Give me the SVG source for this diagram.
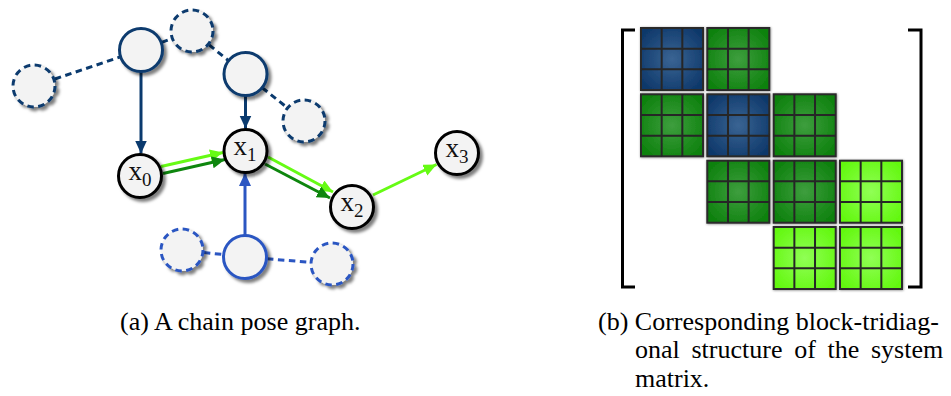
<svg xmlns="http://www.w3.org/2000/svg" xmlns:xlink="http://www.w3.org/1999/xlink" width="951" height="396" viewBox="0 0 951 396">
<defs>
<style>
.node{fill:#f3f3f3;stroke-width:3;}
.dk{stroke:#0a3a6e;}
.lb{stroke:#2b56c2;}
.kx{stroke:#000;}
.dash{stroke-dasharray:6.5 4.5;}
.edge{fill:none;stroke-width:3;}
.lbl{font-family:"Liberation Serif","Times New Roman",serif;font-size:27px;fill:#111;}
.sub{font-size:19px;}
.cap{font-family:"Liberation Serif","Times New Roman",serif;font-size:26px;fill:#000;}
.blk{stroke:#2a2a2a;stroke-width:2;}
.grid{fill:none;stroke:#262626;stroke-width:2;}
.bB{fill:url(#gB);}
.bD{fill:url(#gD);}
.bL{fill:url(#gL);}
.brk{fill:none;stroke:#000;stroke-width:3;}
</style>
<filter id="sh" x="-30%" y="-30%" width="170%" height="170%">
<feDropShadow dx="3" dy="3" stdDeviation="1.6" flood-color="#000" flood-opacity="0.5"/>
</filter>
<filter id="bsh" x="-10%" y="-10%" width="120%" height="120%">
<feDropShadow dx="0.5" dy="0.5" stdDeviation="1" flood-color="#000" flood-opacity="0.45"/>
</filter>
<radialGradient id="gB" cx="0.5" cy="0.5" r="0.6">
<stop offset="0" stop-color="#3a6493"/><stop offset="1" stop-color="#0f396b"/>
</radialGradient>
<radialGradient id="gD" cx="0.5" cy="0.5" r="0.6">
<stop offset="0" stop-color="#3e9e3e"/><stop offset="1" stop-color="#0e810e"/>
</radialGradient>
<radialGradient id="gL" cx="0.5" cy="0.5" r="0.6">
<stop offset="0" stop-color="#90ff55"/><stop offset="1" stop-color="#64f811"/>
</radialGradient>
<path id="grid" class="grid" d="M20.67 0V62M41.33 0V62M0 20.67H62M0 41.33H62"/>
<marker id="aDk" markerUnits="userSpaceOnUse" markerWidth="16" markerHeight="14" refX="13" refY="6" orient="auto"><path d="M0 0L13 6L0 12z" fill="#0a3a6e"/></marker>
<marker id="aLb" markerUnits="userSpaceOnUse" markerWidth="16" markerHeight="14" refX="13" refY="6" orient="auto"><path d="M0 0L13 6L0 12z" fill="#2b56c2"/></marker>
<marker id="aG" markerUnits="userSpaceOnUse" markerWidth="16" markerHeight="14" refX="13" refY="6" orient="auto"><path d="M0 0L13 6L0 12z" fill="#0e860e"/></marker>
<marker id="aL" markerUnits="userSpaceOnUse" markerWidth="16" markerHeight="14" refX="13" refY="6" orient="auto"><path d="M0 0L13 6L0 12z" fill="#66fb14"/></marker>
</defs>
<rect width="951" height="396" fill="#fff"/>

<g id="connectors">
<line class="edge dk dash" x1="34" y1="86" x2="141" y2="50"/>
<line class="edge dk dash" x1="141" y1="50" x2="192" y2="31"/>
<line class="edge dk dash" x1="192" y1="31" x2="245" y2="74"/>
<line class="edge dk dash" x1="245" y1="74" x2="304" y2="121"/>
<line class="edge lb dash" x1="182" y1="250" x2="245" y2="257"/>
<line class="edge lb dash" x1="245" y1="257" x2="332" y2="264"/>
<line class="edge dk" x1="141" y1="71" x2="141" y2="153.5" marker-end="url(#aDk)"/>
<line class="edge dk" x1="245.5" y1="95" x2="245.5" y2="128.5" marker-end="url(#aDk)"/>
<line class="edge lb" x1="245" y1="236" x2="245" y2="173" marker-end="url(#aLb)"/>
<line class="edge" stroke="#66fb14" x1="161" y1="166.5" x2="223" y2="152.5" marker-end="url(#aL)"/>
<line class="edge" stroke="#0e860e" x1="163" y1="173.5" x2="225" y2="159.5" marker-end="url(#aG)"/>
<line class="edge" stroke="#66fb14" x1="268" y1="157" x2="333" y2="192" marker-end="url(#aL)"/>
<line class="edge" stroke="#0e860e" x1="265" y1="164" x2="330" y2="198" marker-end="url(#aG)"/>
<line class="edge" stroke="#66fb14" x1="373" y1="195" x2="436.5" y2="164.5" marker-end="url(#aL)"/>
</g>

<g id="nE" filter="url(#sh)"><circle class="node dk dash" cx="34" cy="86" r="21"/></g>
<g id="nB" filter="url(#sh)"><circle class="node dk dash" cx="192" cy="31" r="21"/></g>
<g id="nD" filter="url(#sh)"><circle class="node dk dash" cx="304" cy="121" r="21"/></g>
<g id="nA" filter="url(#sh)"><circle class="node dk" cx="141" cy="50" r="21.5"/></g>
<g id="nC" filter="url(#sh)"><circle class="node dk" cx="245.5" cy="74" r="21.5"/></g>
<g id="nG" filter="url(#sh)"><circle class="node lb dash" cx="182" cy="250" r="21"/></g>
<g id="nH" filter="url(#sh)"><circle class="node lb dash" cx="332" cy="264" r="21"/></g>
<g id="nF" filter="url(#sh)"><circle class="node lb" cx="245" cy="257" r="21.5"/></g>

<g id="x0"><circle class="node kx" cx="140" cy="176" r="21.5" filter="url(#sh)"/><text class="lbl" x="140" y="179.5" text-anchor="middle">x<tspan class="sub" dy="6">0</tspan></text></g>
<g id="x1"><circle class="node kx" cx="245.5" cy="151" r="21.5" filter="url(#sh)"/><text class="lbl" x="245" y="154.5" text-anchor="middle">x<tspan class="sub" dy="6">1</tspan></text></g>
<g id="x2"><circle class="node kx" cx="352" cy="207" r="21.5" filter="url(#sh)"/><text class="lbl" x="352" y="210.5" text-anchor="middle">x<tspan class="sub" dy="6">2</tspan></text></g>
<g id="x3"><circle class="node kx" cx="457" cy="153" r="21.5" filter="url(#sh)"/><text class="lbl" x="457" y="156.5" text-anchor="middle">x<tspan class="sub" dy="6">3</tspan></text></g>

<g id="matrix">
<path class="brk" d="M635 30H622.5V287H635"/>
<path class="brk" d="M908 30H921V287H908"/>
<g id="b00" filter="url(#bsh)"><rect class="blk bB" x="641" y="28" width="62" height="62"/><use xlink:href="#grid" x="641" y="28"/></g>
<g id="b01" filter="url(#bsh)"><rect class="blk bD" x="707.3" y="28" width="62" height="62"/><use xlink:href="#grid" x="707.3" y="28"/></g>
<g id="b10" filter="url(#bsh)"><rect class="blk bD" x="641" y="94.3" width="62" height="62"/><use xlink:href="#grid" x="641" y="94.3"/></g>
<g id="b11" filter="url(#bsh)"><rect class="blk bB" x="707.3" y="94.3" width="62" height="62"/><use xlink:href="#grid" x="707.3" y="94.3"/></g>
<g id="b12" filter="url(#bsh)"><rect class="blk bD" x="773.7" y="94.3" width="62" height="62"/><use xlink:href="#grid" x="773.7" y="94.3"/></g>
<g id="b21" filter="url(#bsh)"><rect class="blk bD" x="707.3" y="160.7" width="62" height="62"/><use xlink:href="#grid" x="707.3" y="160.7"/></g>
<g id="b22" filter="url(#bsh)"><rect class="blk bD" x="773.7" y="160.7" width="62" height="62"/><use xlink:href="#grid" x="773.7" y="160.7"/></g>
<g id="b23" filter="url(#bsh)"><rect class="blk bL" x="840" y="160.7" width="62" height="62"/><use xlink:href="#grid" x="840" y="160.7"/></g>
<g id="b32" filter="url(#bsh)"><rect class="blk bL" x="773.7" y="227" width="62" height="62"/><use xlink:href="#grid" x="773.7" y="227"/></g>
<g id="b33" filter="url(#bsh)"><rect class="blk bL" x="840" y="227" width="62" height="62"/><use xlink:href="#grid" x="840" y="227"/></g>
</g>

<g id="captions">
<text class="cap" x="120" y="330">(a) A chain pose graph.</text>
<text class="cap" x="598" y="330">(b) Corresponding block-tridiag-</text>
<text class="cap" x="635" y="358" word-spacing="5.2">onal structure of the system</text>
<text class="cap" x="635" y="386.5">matrix.</text>
</g>
</svg>
